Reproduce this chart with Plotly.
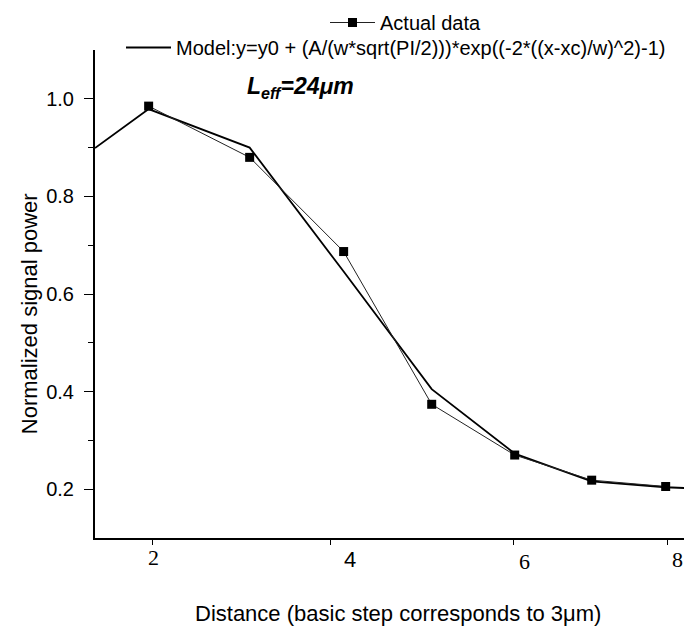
import plotly.graph_objects as go

# ---- data (x in axis units along the drawn axis) ----
actual_x = [1.953, 3.130, 4.225, 5.251, 6.218, 7.115, 7.977]
actual_y = [0.985, 0.880, 0.687, 0.374, 0.270, 0.2185, 0.2055]

model_x = [1.328, 1.953, 3.130, 4.225, 5.251, 6.218, 7.115, 7.977, 8.40]
model_y = [0.899, 0.979, 0.900, 0.646, 0.405, 0.273, 0.216, 0.204, 0.201]

x_tick_labels = ["2", "4", "6", "8"]
x_tick_pos = [2.0, 4.074, 6.206, 8.0]
x_label_pos = [2.012, 4.295, 6.334, 8.117]

y_tick_vals = [0.2, 0.4, 0.6, 0.8, 1.0]
y_tick_labels = ["0.2", "0.4", "0.6", "0.8", "1.0"]
y_minor_vals = [0.3, 0.5, 0.7, 0.9]

SANS = "Liberation Sans, Arial, sans-serif"
SERIF = "Liberation Serif, Times New Roman, serif"

# plot area in pixels: x 87..692, y 42..530
L, R, T, B = 87, 692, 42, 530


def px_to_paper(px, py):
    return (px - L) / (R - L), (B - py) / (B - T)


fig = go.Figure()

fig.add_trace(go.Scatter(
    x=model_x, y=model_y, mode="lines",
    name="Model:y=y0 + (A/(w*sqrt(PI/2)))*exp((-2*((x-xc)/w)^2)-1)",
    line=dict(color="black", width=1.8),
    legend="legend2",
))
fig.add_trace(go.Scatter(
    x=actual_x, y=actual_y, mode="lines+markers", name="Actual data",
    line=dict(color="#222222", width=1),
    marker=dict(symbol="square", size=9, color="black"),
    legend="legend",
))

annotations = []
label_py = [549, 551, 553, 551]
label_fonts = [SERIF, SANS, SERIF, SERIF]
for pos, txt, py, ff in zip(x_label_pos, x_tick_labels, label_py, label_fonts):
    annotations.append(dict(x=pos, y=px_to_paper(0, py)[1], xref="x", yref="paper", text=txt,
                            showarrow=False, xanchor="center", yanchor="middle",
                            font=dict(family=ff, size=22, color="black")))

annotations.append(dict(x=3.72, y=1.024, xref="x", yref="y",
                        text="<b><i>L<sub>eff</sub>=24μm</i></b>", showarrow=False,
                        xanchor="center", yanchor="middle",
                        font=dict(family=SANS, size=23, color="black")))
ax, ay = px_to_paper(21.7, 305.5)
annotations.append(dict(x=ax, y=ay, xref="paper", yref="paper",
                        text="Normalized signal power", textangle=-90, showarrow=False,
                        xanchor="center", yanchor="middle",
                        font=dict(family=SANS, size=22, color="black")))
bx, by = px_to_paper(390, 605)
annotations.append(dict(x=bx, y=by, xref="paper", yref="paper",
                        text="Distance (basic step corresponds to 3μm)", showarrow=False,
                        xanchor="center", yanchor="middle",
                        font=dict(family=SANS, size=22, color="black")))

l1x, l1y = px_to_paper(317, -5)
l2x, l2y = px_to_paper(113, 20)

fig.update_layout(
    width=692, height=627,
    margin=dict(l=L, r=692 - R, t=T, b=627 - B, autoexpand=False),
    paper_bgcolor="white", plot_bgcolor="white",
    font=dict(family=SANS, size=20, color="black"),
    showlegend=True,
    legend=dict(x=l1x, y=l1y, xanchor="left", yanchor="top", bgcolor="rgba(0,0,0,0)",
                itemwidth=45,
                font=dict(family=SANS, size=20, color="black")),
    legend2=dict(x=l2x, y=l2y, xanchor="left", yanchor="top", bgcolor="rgba(0,0,0,0)",
                 itemwidth=45,
                 font=dict(family=SANS, size=20, color="black")),
    annotations=annotations,
)

fig.update_xaxes(
    range=[1.328, 8.377], showgrid=False, zeroline=False,
    showline=True, linecolor="black", linewidth=2,
    ticks="outside", ticklen=5, tickwidth=1, tickcolor="black",
    tickvals=x_tick_pos, showticklabels=False,
)
fig.update_yaxes(
    range=[0.1, 1.1], showgrid=False, zeroline=False,
    showline=True, linecolor="black", linewidth=2,
    ticks="outside", ticklen=9, tickwidth=1.2, tickcolor="black",
    tickvals=y_tick_vals, ticktext=y_tick_labels,
    tickfont=dict(family=SANS, size=20, color="black"),
    ticklabelstandoff=6,
    minor=dict(tickvals=y_minor_vals, ticks="outside", ticklen=5,
               tickwidth=1, tickcolor="black"),
)

fig.write_html("out.html")
